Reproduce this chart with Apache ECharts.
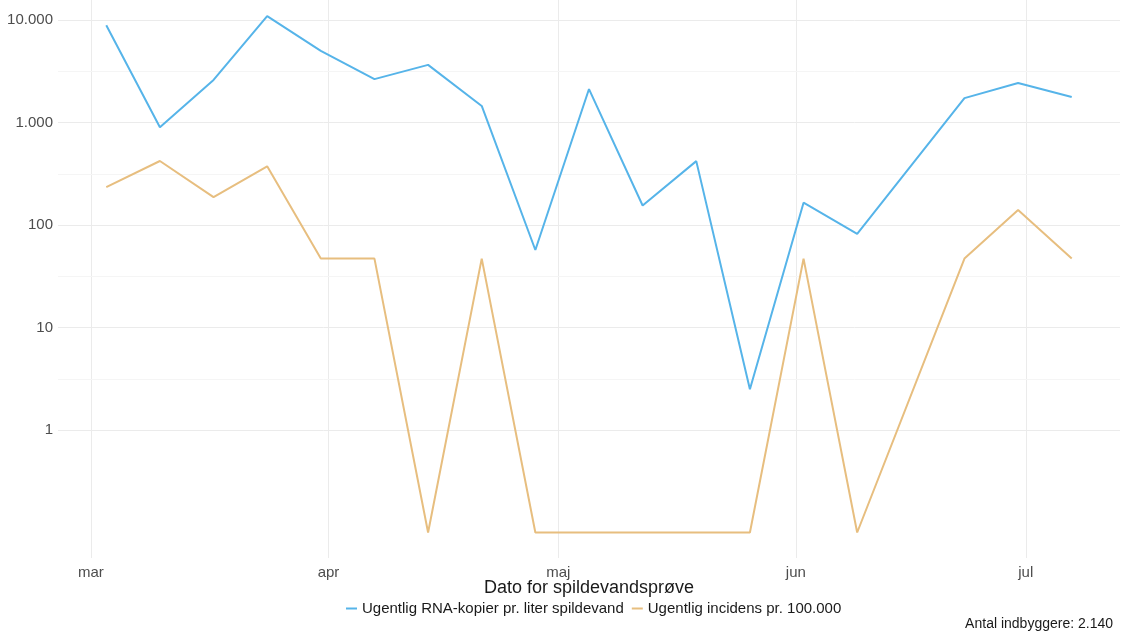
<!DOCTYPE html>
<html lang="da">
  <head>
    <meta charset="UTF-8" />
    <title>Spildevand</title>
    <style>
      html, body { margin: 0; padding: 0; background: #fff; }
      #main { width: 1123px; height: 637px; }
    </style>
  </head>
  <body>
    <div id="main"></div>
    <script src="https://cdn.jsdelivr.net/npm/echarts@6/dist/echarts.min.js"></script>
    <script>
      // ugentlige prøver (uge 16. juni mangler)
      const dates = [
        '2023-03-03', '2023-03-10', '2023-03-17', '2023-03-24', '2023-03-31',
        '2023-04-07', '2023-04-14', '2023-04-21', '2023-04-28', '2023-05-05',
        '2023-05-12', '2023-05-19', '2023-05-26', '2023-06-02', '2023-06-09',
        '2023-06-23', '2023-06-30', '2023-07-07'
      ]
      const rnaKopier = [
        8900, 900, 2600, 10900, 5000, 2650, 3650, 1450, 57, 2120,
        155, 420, 2.5, 165, 82, 1730, 2430, 1775
      ]
      // 0 vises som 0.1 på log-aksen
      const incidens = [
        234, 421, 187, 374, 47, 47, 0.1, 47, 0.1, 0.1,
        0.1, 0.1, 0.1, 47, 0.1, 47, 140, 47
      ]
      const monthLabels = ['jan', 'feb', 'mar', 'apr', 'maj', 'jun', 'jul', 'aug', 'sep', 'okt', 'nov', 'dec']
      const majorBreaks = [1, 10, 100, 1000, 10000]
      const minorBreaks = [3.162, 31.62, 316.2, 3162]
      const seriesNames = ['Ugentlig RNA-kopier pr. liter spildevand', 'Ugentlig incidens pr. 100.000']

      const toTime = d => Date.UTC(+d.slice(0, 4), +d.slice(5, 7) - 1, +d.slice(8, 10))
      const times = dates.map(toTime)

      // ggplot-agtig udvidelse på 5 %
      const span = times[times.length - 1] - times[0]
      const xMin = times[0] - span * 0.05
      const xMax = times[times.length - 1] + span * 0.05

      const fmtDk = v => String(v).replace(/\B(?=(\d{3})+(?!\d))/g, '.')
      const font = 'Liberation Sans, Arial, sans-serif'

      const myChart = echarts.init(document.getElementById('main'), null, { renderer: 'canvas' })

      const gridLines = []
      majorBreaks.forEach(v => gridLines.push({ yAxis: v, lineStyle: { color: '#ebebeb', width: 1, type: 'solid' } }))
      minorBreaks.forEach(v => gridLines.push({ yAxis: v, lineStyle: { color: '#f5f5f5', width: 1, type: 'solid' } }))

      const option = {
        animation: false,
        useUTC: true,
        grid: {
          left: 58,
          right: 3,
          top: 0,
          bottom: 79
        },
        xAxis: {
          type: 'time',
          min: xMin,
          max: xMax,
          minInterval: 28 * 86400000,
          maxInterval: 31 * 86400000,
          name: 'Dato for spildevandsprøve',
          nameLocation: 'middle',
          nameGap: 21,
          nameMoveOverlap: false,
          nameTextStyle: { color: '#1a1a1a', fontSize: 18, fontFamily: font, verticalAlign: 'top' },
          axisLine: { show: false },
          axisTick: { show: false },
          axisLabel: {
            color: '#4d4d4d',
            fontSize: 15,
            fontFamily: font,
            margin: 7,
            showMinLabel: false,
            showMaxLabel: false,
            hideOverlap: false,
            formatter: value => monthLabels[new Date(value).getUTCMonth()]
          },
          splitLine: {
            show: true,
            showMinLine: false,
            showMaxLine: false,
            lineStyle: { color: '#ebebeb', width: 1 }
          }
        },
        yAxis: {
          type: 'log',
          logBase: 10,
          min: 0.0564,
          max: 15670,
          axisLine: { show: false },
          axisTick: { show: false },
          splitLine: { show: false },
          axisLabel: {
            color: '#4d4d4d',
            fontSize: 15,
            fontFamily: font,
            margin: 5,
            showMinLabel: false,
            showMaxLabel: false,
            formatter: value => (majorBreaks.includes(Math.round(value * 1000) / 1000) ? fmtDk(Math.round(value)) : '')
          }
        },
        legend: {
          left: 341,
          top: 596,
          icon: 'rect',
          itemWidth: 11,
          itemHeight: 2,
          itemGap: 8,
          textStyle: { color: '#1a1a1a', fontSize: 15, fontFamily: font },
          data: seriesNames
        },
        graphic: [
          {
            type: 'text',
            right: 10,
            top: 617,
            style: { text: 'Antal indbyggere: 2.140', fill: '#1a1a1a', font: '14px ' + font }
          }
        ],
        series: [
          {
            name: seriesNames[0],
            type: 'line',
            z: 3,
            data: times.map((t, i) => [t, rnaKopier[i]]),
            showSymbol: false,
            symbol: 'none',
            color: '#56B4E9',
            lineStyle: { width: 2, color: '#56B4E9' },
            markLine: {
              z: 1,
              silent: true,
              symbol: 'none',
              label: { show: false },
              data: gridLines
            }
          },
          {
            name: seriesNames[1],
            type: 'line',
            z: 3,
            data: times.map((t, i) => [t, incidens[i]]),
            showSymbol: false,
            symbol: 'none',
            color: '#E7BE7F',
            lineStyle: { width: 2, color: '#E7BE7F' }
          }
        ]
      }

      myChart.setOption(option)
    </script>
  </body>
</html>
